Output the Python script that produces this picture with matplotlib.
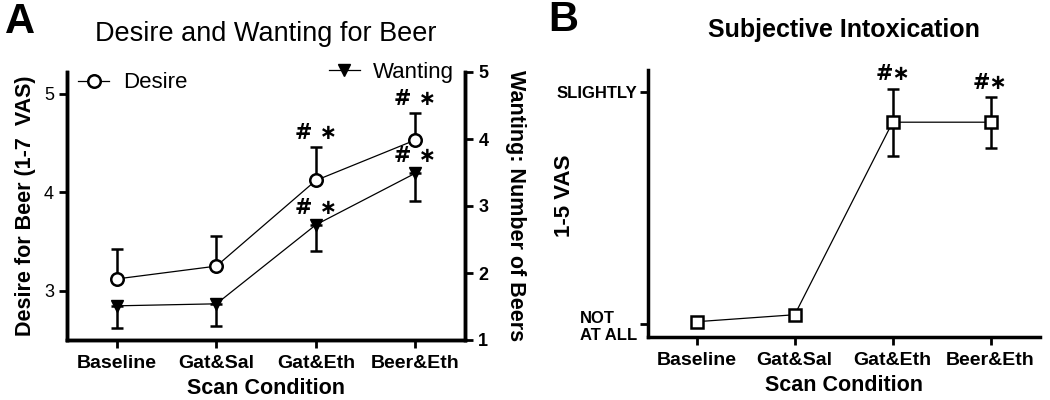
import numpy as np
import matplotlib.pyplot as plt
from matplotlib.lines import Line2D

plt.rcParams['font.family'] = ['Liberation Sans', 'DejaVu Sans']

# datos
condiciones = ['Baseline', 'Gat&Sal', 'Gat&Eth', 'Beer&Eth']
deseo = [3.12, 3.25, 4.12, 4.53]
deseo_err = [0.30, 0.31, 0.34, 0.27]
ganas = [1.51, 1.54, 2.72, 3.49]
ganas_err = [0.33, 0.33, 0.39, 0.42]
intox = [1.01, 1.04, 1.87, 1.87]
intox_err = [0.0, 0.0, 0.145, 0.11]
intox_ticks = [1, 2]
intox_ticklabels = ['NOT\nAT ALL', 'SLIGHTLY']
sig_a_deseo = ['', '', '# \u2217', '# \u2217']
sig_a_ganas = ['', '', '# \u2217', '# \u2217']
sig_b = ['', '', '#\u2217', '#\u2217']

x = np.arange(len(condiciones))
estilo_err = dict(ecolor='black', elinewidth=1.8, capsize=4, capthick=1.8)

fig = plt.figure(figsize=(10.5, 4), dpi=100)

# Panel A
ax = fig.add_axes([0.064, 0.15, 0.379, 0.67])
ax2 = ax.twinx()

ax.errorbar(x, deseo, yerr=[[0] * 4, deseo_err], color='black', lw=0.9,
            marker='o', ms=9, mfc='white', mec='black', mew=1.8, zorder=3, **estilo_err)
ax2.errorbar(x, ganas, yerr=[ganas_err, [0] * 4], color='black', lw=0.9,
             marker='v', ms=9, mfc='black', mec='black', zorder=3, **estilo_err)

ax.set_xlim(-0.5, 3.5)
ax.set_ylim(2.5, 5.22)
ax.set_yticks([3, 4, 5])
ax2.set_ylim(1, 5)
ax2.set_yticks([1, 2, 3, 4, 5])
ax.set_xticks(x)
ax.set_xticklabels(condiciones, fontsize=14, fontweight='bold')
ax.tick_params(axis='y', labelsize=13, width=2, length=6)
ax.tick_params(axis='x', width=2, length=6, pad=5)
ax2.tick_params(axis='y', labelsize=13, width=2, length=6)
for lbl in ax2.get_yticklabels():
    lbl.set_fontweight('bold')

for a in (ax, ax2):
    a.spines['top'].set_visible(False)
    for s in ('left', 'right', 'bottom'):
        a.spines[s].set_linewidth(2.5)

ax.set_xlabel('Scan Condition', fontsize=15.5, fontweight='bold', labelpad=4)
ax.set_ylabel('Desire for Beer (1-7  VAS)', fontsize=15.5, fontweight='bold', labelpad=6)
ax2.set_ylabel('Wanting: Number of Beers', fontsize=15.5, fontweight='bold',
               rotation=270, labelpad=27)
ax.set_title('Desire and Wanting for Beer', fontsize=19.5, fontweight='normal', pad=22)

for i, s in enumerate(sig_a_deseo):
    if s:
        ax.annotate(s, (x[i], deseo[i] + deseo_err[i]), xytext=(0, 3),
                    textcoords='offset points', ha='center', va='bottom',
                    fontsize=15, fontweight='bold', family='DejaVu Sans')
for i, s in enumerate(sig_a_ganas):
    if s:
        ax2.annotate(s, (x[i], ganas[i]), xytext=(0, 5),
                     textcoords='offset points', ha='center', va='bottom',
                     fontsize=15, fontweight='bold', family='DejaVu Sans')

h_deseo = Line2D([], [], color='black', lw=0.9, marker='o', ms=9, mfc='white',
                 mec='black', mew=1.8)
h_ganas = Line2D([], [], color='black', lw=0.9, marker='v', ms=9, mfc='black', mec='black')
ax.legend([h_deseo], ['Desire'], loc='upper left', frameon=False, fontsize=16,
          handlelength=1.4, handletextpad=0.6, borderaxespad=0.1,
          bbox_to_anchor=(0.0, 1.04))
ax2.legend([h_ganas], ['Wanting'], loc='upper right', frameon=False, fontsize=16,
           handlelength=1.4, handletextpad=0.6, borderaxespad=0.1,
           bbox_to_anchor=(1.0, 1.08))

fig.text(0.019, 0.945, 'A', fontsize=30, fontweight='bold', ha='center', va='center')

# Panel B
bx = fig.add_axes([0.617, 0.1575, 0.373, 0.6675])
bx.errorbar(x, intox, yerr=intox_err, color='black', lw=0.9,
            marker='s', ms=9, mfc='white', mec='black', mew=1.8, zorder=3, **estilo_err)
bx.set_xlim(-0.5, 3.5)
bx.set_ylim(0.944, 2.095)
bx.set_yticks(intox_ticks)
bx.set_yticklabels(intox_ticklabels, fontsize=12, fontweight='bold', multialignment='left')
bx.set_xticks(x)
bx.set_xticklabels(condiciones, fontsize=14, fontweight='bold')
bx.tick_params(axis='x', width=2, length=6, pad=5)
bx.tick_params(axis='y', width=2, length=6, pad=1.5)
bx.spines['top'].set_visible(False)
bx.spines['right'].set_visible(False)
bx.spines['left'].set_linewidth(2.5)
bx.spines['bottom'].set_linewidth(2.5)
bx.set_xlabel('Scan Condition', fontsize=15.5, fontweight='bold', labelpad=4)
bx.set_ylabel('1-5 VAS', fontsize=16, fontweight='bold')
bx.yaxis.set_label_coords(-0.185, 0.53)
bx.set_title('Subjective Intoxication', fontsize=18, fontweight='bold', pad=24)

for i, s in enumerate(sig_b):
    if s:
        bx.annotate(s, (x[i], intox[i] + intox_err[i]), xytext=(0, 3),
                    textcoords='offset points', ha='center', va='bottom',
                    fontsize=15, fontweight='bold', family='DejaVu Sans')

fig.text(0.536, 0.95, 'B', fontsize=30, fontweight='bold', ha='center', va='center')

fig.savefig('out.png', dpi=100)
